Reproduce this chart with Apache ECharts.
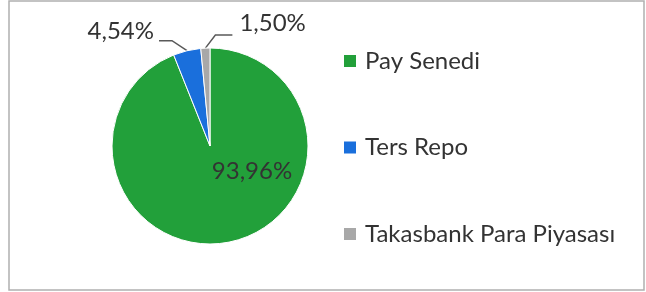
<!DOCTYPE html>
<html>
<head>
  <meta charset="utf-8">
  <title>Portföy Dağılımı</title>
  <script src="https://cdn.jsdelivr.net/npm/echarts@6.0.0/dist/echarts.min.js"></script>
  <style>
    body { margin: 0; background: #fff; }
    #chart { width: 646px; height: 292px; }
  </style>
</head>
<body>
  <div id="chart"></div>
  <script>
    const categories = ['Pay Senedi', 'Ters Repo', 'Takasbank Para Piyasası'];
    const values = [93.96, 4.54, 1.50];
    const colors = ['#22a03a', '#1a6fdc', '#a8a8a8'];

    const CX = 210, CY = 146, R = 98;
    const FONT = 'Lato, "Open Sans", sans-serif';
    const TEXT = '#333333';

    const fmt = v => v.toFixed(2).replace('.', ',') + '%';

    const pieData = categories.map((name, i) => ({
      name: name,
      value: values[i],
      itemStyle: { color: colors[i] },
      label: { position: i === 0 ? 'inside' : 'outside' }
    }));

    const chart = echarts.init(document.getElementById('chart'));
    chart.setOption({
      animation: false,
      backgroundColor: '#fff',
      graphic: [{
        type: 'rect',
        shape: { x: 9, y: 1, width: 635, height: 289 },
        style: { fill: 'none', stroke: '#b0b0b0', lineWidth: 1.5 },
        silent: true
      }],
      legend: {
        orient: 'vertical',
        left: 342,
        top: 49,
        padding: 0,
        itemWidth: 14,
        itemHeight: 14,
        itemGap: 62.5,
        icon: 'rect',
        data: categories,
        textStyle: { fontFamily: FONT, fontSize: 24, color: TEXT, lineHeight: 24, padding: [0, 0, 0, 3] }
      },
      series: [{
        type: 'pie',
        center: [CX, CY],
        radius: R,
        startAngle: 90,
        clockwise: true,
        data: pieData,
        itemStyle: { borderColor: '#fff', borderWidth: 1 },
        label: {
          formatter: p => fmt(p.value),
          fontFamily: FONT,
          fontSize: 24,
          color: TEXT
        },
        labelLine: {
          show: true,
          length: 10,
          length2: 15,
          lineStyle: { color: '#595959', width: 1.5 }
        },
        labelLayout: function (p) {
          if (p.dataIndex === 0) {
            return { x: CX + 42, y: CY + 25, align: 'center', verticalAlign: 'middle' };
          }
          const e = p.labelLinePoints[0];
          if (p.dataIndex === 1) {
            const b = [e[0] - 15, e[1] - 10];
            const t = [b[0] - 13, b[1]];
            return { x: t[0] - 5, y: t[1] - 9, align: 'right', verticalAlign: 'middle', labelLinePoints: [e, b, t] };
          }
          const b = [e[0] + 10, e[1] - 13];
          const t = [b[0] + 17, b[1]];
          return { x: t[0] + 7, y: t[1] - 12, align: 'left', verticalAlign: 'middle', labelLinePoints: [e, b, t] };
        }
      }]
    });
  </script>
</body>
</html>
